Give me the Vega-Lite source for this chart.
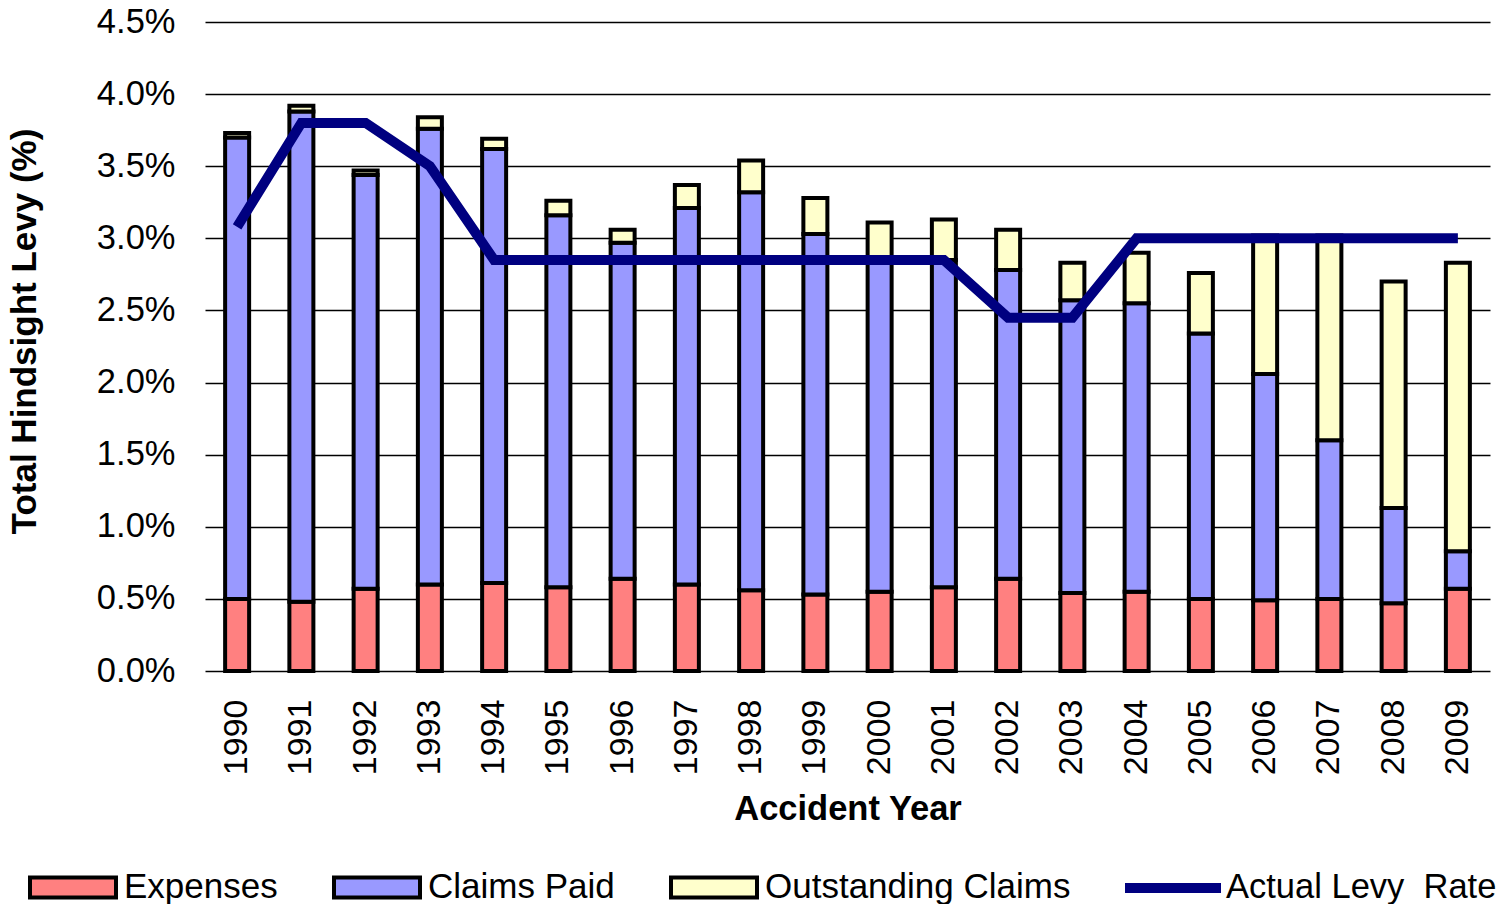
{
  "$schema": "https://vega.github.io/schema/vega-lite/v6.json",
  "width": 1285,
  "height": 649,
  "autosize": {"type": "none"},
  "padding": {"left": 205, "top": 22, "right": 14, "bottom": 233},
  "background": "white",
  "config": {
    "font": "Liberation Sans",
    "view": {"stroke": null},
    "axis": {"labelColor": "black", "titleColor": "black", "labelFont": "Liberation Sans", "titleFont": "Liberation Sans"},
    "legend": {"labelFont": "Liberation Sans", "labelColor": "black", "labelFontSize": 35, "labelLimit": 600, "padding": 0}
  },
  "datasets": {
    "bars": [
      {"year": "1990", "component": "Expenses", "k": 0, "value": 0.50},
      {"year": "1990", "component": "Claims Paid", "k": 1, "value": 3.20},
      {"year": "1990", "component": "Outstanding Claims", "k": 2, "value": 0.03},
      {"year": "1991", "component": "Expenses", "k": 0, "value": 0.48},
      {"year": "1991", "component": "Claims Paid", "k": 1, "value": 3.40},
      {"year": "1991", "component": "Outstanding Claims", "k": 2, "value": 0.04},
      {"year": "1992", "component": "Expenses", "k": 0, "value": 0.57},
      {"year": "1992", "component": "Claims Paid", "k": 1, "value": 2.87},
      {"year": "1992", "component": "Outstanding Claims", "k": 2, "value": 0.03},
      {"year": "1993", "component": "Expenses", "k": 0, "value": 0.60},
      {"year": "1993", "component": "Claims Paid", "k": 1, "value": 3.16},
      {"year": "1993", "component": "Outstanding Claims", "k": 2, "value": 0.08},
      {"year": "1994", "component": "Expenses", "k": 0, "value": 0.61},
      {"year": "1994", "component": "Claims Paid", "k": 1, "value": 3.01},
      {"year": "1994", "component": "Outstanding Claims", "k": 2, "value": 0.07},
      {"year": "1995", "component": "Expenses", "k": 0, "value": 0.58},
      {"year": "1995", "component": "Claims Paid", "k": 1, "value": 2.58},
      {"year": "1995", "component": "Outstanding Claims", "k": 2, "value": 0.10},
      {"year": "1996", "component": "Expenses", "k": 0, "value": 0.64},
      {"year": "1996", "component": "Claims Paid", "k": 1, "value": 2.33},
      {"year": "1996", "component": "Outstanding Claims", "k": 2, "value": 0.09},
      {"year": "1997", "component": "Expenses", "k": 0, "value": 0.60},
      {"year": "1997", "component": "Claims Paid", "k": 1, "value": 2.61},
      {"year": "1997", "component": "Outstanding Claims", "k": 2, "value": 0.16},
      {"year": "1998", "component": "Expenses", "k": 0, "value": 0.56},
      {"year": "1998", "component": "Claims Paid", "k": 1, "value": 2.76},
      {"year": "1998", "component": "Outstanding Claims", "k": 2, "value": 0.22},
      {"year": "1999", "component": "Expenses", "k": 0, "value": 0.53},
      {"year": "1999", "component": "Claims Paid", "k": 1, "value": 2.50},
      {"year": "1999", "component": "Outstanding Claims", "k": 2, "value": 0.25},
      {"year": "2000", "component": "Expenses", "k": 0, "value": 0.55},
      {"year": "2000", "component": "Claims Paid", "k": 1, "value": 2.31},
      {"year": "2000", "component": "Outstanding Claims", "k": 2, "value": 0.25},
      {"year": "2001", "component": "Expenses", "k": 0, "value": 0.58},
      {"year": "2001", "component": "Claims Paid", "k": 1, "value": 2.27},
      {"year": "2001", "component": "Outstanding Claims", "k": 2, "value": 0.28},
      {"year": "2002", "component": "Expenses", "k": 0, "value": 0.64},
      {"year": "2002", "component": "Claims Paid", "k": 1, "value": 2.14},
      {"year": "2002", "component": "Outstanding Claims", "k": 2, "value": 0.28},
      {"year": "2003", "component": "Expenses", "k": 0, "value": 0.54},
      {"year": "2003", "component": "Claims Paid", "k": 1, "value": 2.03},
      {"year": "2003", "component": "Outstanding Claims", "k": 2, "value": 0.26},
      {"year": "2004", "component": "Expenses", "k": 0, "value": 0.55},
      {"year": "2004", "component": "Claims Paid", "k": 1, "value": 2.00},
      {"year": "2004", "component": "Outstanding Claims", "k": 2, "value": 0.35},
      {"year": "2005", "component": "Expenses", "k": 0, "value": 0.50},
      {"year": "2005", "component": "Claims Paid", "k": 1, "value": 1.84},
      {"year": "2005", "component": "Outstanding Claims", "k": 2, "value": 0.42},
      {"year": "2006", "component": "Expenses", "k": 0, "value": 0.49},
      {"year": "2006", "component": "Claims Paid", "k": 1, "value": 1.57},
      {"year": "2006", "component": "Outstanding Claims", "k": 2, "value": 0.96},
      {"year": "2007", "component": "Expenses", "k": 0, "value": 0.50},
      {"year": "2007", "component": "Claims Paid", "k": 1, "value": 1.10},
      {"year": "2007", "component": "Outstanding Claims", "k": 2, "value": 1.42},
      {"year": "2008", "component": "Expenses", "k": 0, "value": 0.47},
      {"year": "2008", "component": "Claims Paid", "k": 1, "value": 0.66},
      {"year": "2008", "component": "Outstanding Claims", "k": 2, "value": 1.57},
      {"year": "2009", "component": "Expenses", "k": 0, "value": 0.57},
      {"year": "2009", "component": "Claims Paid", "k": 1, "value": 0.26},
      {"year": "2009", "component": "Outstanding Claims", "k": 2, "value": 2.00}
    ],
    "levy": [
      {"year": "1990", "series": "Actual Levy\u00a0 Rate", "levy": 3.08},
      {"year": "1991", "series": "Actual Levy\u00a0 Rate", "levy": 3.80},
      {"year": "1992", "series": "Actual Levy\u00a0 Rate", "levy": 3.80},
      {"year": "1993", "series": "Actual Levy\u00a0 Rate", "levy": 3.50},
      {"year": "1994", "series": "Actual Levy\u00a0 Rate", "levy": 2.85},
      {"year": "1995", "series": "Actual Levy\u00a0 Rate", "levy": 2.85},
      {"year": "1996", "series": "Actual Levy\u00a0 Rate", "levy": 2.85},
      {"year": "1997", "series": "Actual Levy\u00a0 Rate", "levy": 2.85},
      {"year": "1998", "series": "Actual Levy\u00a0 Rate", "levy": 2.85},
      {"year": "1999", "series": "Actual Levy\u00a0 Rate", "levy": 2.85},
      {"year": "2000", "series": "Actual Levy\u00a0 Rate", "levy": 2.85},
      {"year": "2001", "series": "Actual Levy\u00a0 Rate", "levy": 2.85},
      {"year": "2002", "series": "Actual Levy\u00a0 Rate", "levy": 2.45},
      {"year": "2003", "series": "Actual Levy\u00a0 Rate", "levy": 2.45},
      {"year": "2004", "series": "Actual Levy\u00a0 Rate", "levy": 3.00},
      {"year": "2005", "series": "Actual Levy\u00a0 Rate", "levy": 3.00},
      {"year": "2006", "series": "Actual Levy\u00a0 Rate", "levy": 3.00},
      {"year": "2007", "series": "Actual Levy\u00a0 Rate", "levy": 3.00},
      {"year": "2008", "series": "Actual Levy\u00a0 Rate", "levy": 3.00},
      {"year": "2009", "series": "Actual Levy\u00a0 Rate", "levy": 3.00}
    ]
  },
  "layer": [
    {
      "data": {"name": "bars"},
      "mark": {"type": "bar", "size": 24, "stroke": "black", "strokeWidth": 4},
      "encoding": {
        "x": {
          "field": "year", "type": "ordinal",
          "scale": {"paddingInner": 0, "paddingOuter": 0},
          "axis": {
            "title": "Accident Year", "titleFontSize": 34.5, "titleFontWeight": "bold", "titlePadding": 18,
            "labelAngle": 270, "labelFontSize": 34, "labelPadding": 28,
            "ticks": false, "domain": false, "grid": false
          }
        },
        "y": {
          "field": "value", "type": "quantitative", "stack": "zero",
          "scale": {"domain": [0, 4.5], "nice": false},
          "axis": {
            "title": "Total Hindsight Levy (%)", "titleFontSize": 35, "titleFontWeight": "bold", "titlePadding": 54,
            "titleY": 309,
            "values": [0, 0.5, 1, 1.5, 2, 2.5, 3, 3.5, 4, 4.5],
            "labelExpr": "format(datum.value, '.1f') + '%'",
            "labelFontSize": 34.5, "labelPadding": 30,
            "ticks": false, "domain": false,
            "grid": true, "gridColor": "black", "gridWidth": 1.3, "gridOpacity": 1
          }
        },
        "fill": {
          "field": "component", "type": "nominal",
          "scale": {"domain": ["Expenses", "Claims Paid", "Outstanding Claims"], "range": ["#FF8080", "#9999FF", "#FFFFCC"]},
          "legend": {
            "title": null, "orient": "none", "direction": "horizontal",
            "legendX": -177, "legendY": 820,
            "symbolType": "M-1,-0.233H1V0.233H-1Z", "symbolSize": 7396,
            "symbolStrokeColor": "black", "symbolStrokeWidth": 4, "symbolOpacity": 1,
            "labelOffset": 6, "columnPadding": 48
          }
        },
        "order": {"field": "k", "type": "quantitative"}
      }
    },
    {
      "data": {"name": "levy"},
      "mark": {"type": "line", "strokeWidth": 10},
      "encoding": {
        "x": {"field": "year", "type": "ordinal"},
        "y": {"field": "levy", "type": "quantitative"},
        "stroke": {
          "field": "series", "type": "nominal",
          "scale": {"range": ["#000080"]},
          "legend": {
            "title": null, "orient": "none", "direction": "horizontal",
            "legendX": 915, "legendY": 813,
            "symbolType": "stroke", "symbolSize": 9216, "symbolStrokeWidth": 10,
            "labelOffset": 0, "labelFontSize": 34.5
          }
        }
      }
    }
  ]
}
